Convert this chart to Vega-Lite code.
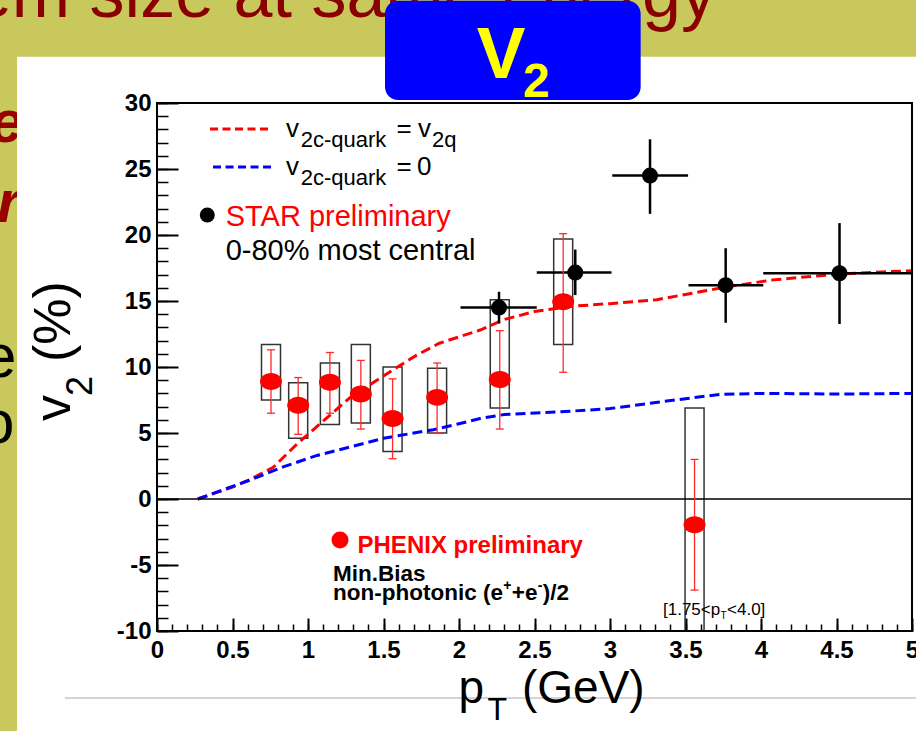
{
  "$schema": "https://vega.github.io/schema/vega-lite/v6.json",
  "width": 755,
  "height": 528,
  "autosize": {"type": "none"},
  "padding": {"left": 157, "top": 103, "right": 4, "bottom": 100},
  "background": "#c8c85c",
  "config": {"view": {"stroke": null}},
  "resolve": {"axis": {"x": "independent", "y": "independent"}},
  "datasets": {
    "phenix": [
      {"pt": 0.755, "v2": 8.9, "stat_lo": 6.5, "stat_hi": 11.3, "sys_lo": 7.5, "sys_hi": 11.7},
      {"pt": 0.935, "v2": 7.1, "stat_lo": 4.9, "stat_hi": 9.2, "sys_lo": 4.6, "sys_hi": 8.8},
      {"pt": 1.145, "v2": 8.85, "stat_lo": 6.5, "stat_hi": 11.1, "sys_lo": 5.65, "sys_hi": 10.3},
      {"pt": 1.35, "v2": 7.95, "stat_lo": 5.3, "stat_hi": 10.5, "sys_lo": 5.75, "sys_hi": 11.7},
      {"pt": 1.56, "v2": 6.1, "stat_lo": 3.05, "stat_hi": 9.1, "sys_lo": 3.6, "sys_hi": 10.0},
      {"pt": 1.855, "v2": 7.7, "stat_lo": 5.0, "stat_hi": 10.3, "sys_lo": 5.0, "sys_hi": 9.9},
      {"pt": 2.27, "v2": 9.05, "stat_lo": 5.3, "stat_hi": 12.75, "sys_lo": 6.9, "sys_hi": 15.1},
      {"pt": 2.69, "v2": 14.95, "stat_lo": 9.6, "stat_hi": 20.1, "sys_lo": 11.7, "sys_hi": 19.7},
      {"pt": 3.56, "v2": -1.95, "stat_lo": -6.9, "stat_hi": 3.0, "sys_lo": -10.0, "sys_hi": 6.9}
    ],
    "star": [
      {"pt": 2.265, "v2": 14.5, "pt_lo": 2.01, "pt_hi": 2.515, "v2_lo": 13.3, "v2_hi": 15.7},
      {"pt": 2.77, "v2": 17.15, "pt_lo": 2.515, "pt_hi": 3.01, "v2_lo": 15.45, "v2_hi": 18.9},
      {"pt": 3.265, "v2": 24.5, "pt_lo": 3.015, "pt_hi": 3.517, "v2_lo": 21.6, "v2_hi": 27.25},
      {"pt": 3.766, "v2": 16.2, "pt_lo": 3.52, "pt_hi": 4.015, "v2_lo": 13.35, "v2_hi": 19.0},
      {"pt": 4.52, "v2": 17.1, "pt_lo": 4.015, "pt_hi": 5.0, "v2_lo": 13.26, "v2_hi": 20.9}
    ],
    "model": [
      {"model": "v2c-quark = v2q", "pt": 0.27, "v2": 0},
      {"model": "v2c-quark = v2q", "pt": 0.5, "v2": 0.9},
      {"model": "v2c-quark = v2q", "pt": 0.62, "v2": 1.5},
      {"model": "v2c-quark = v2q", "pt": 0.77, "v2": 2.4},
      {"model": "v2c-quark = v2q", "pt": 0.93, "v2": 4.2},
      {"model": "v2c-quark = v2q", "pt": 1.08, "v2": 5.7},
      {"model": "v2c-quark = v2q", "pt": 1.28, "v2": 7.7},
      {"model": "v2c-quark = v2q", "pt": 1.565, "v2": 9.8},
      {"model": "v2c-quark = v2q", "pt": 1.72, "v2": 10.9},
      {"model": "v2c-quark = v2q", "pt": 1.87, "v2": 11.8},
      {"model": "v2c-quark = v2q", "pt": 2.14, "v2": 12.8},
      {"model": "v2c-quark = v2q", "pt": 2.3, "v2": 13.6},
      {"model": "v2c-quark = v2q", "pt": 2.5, "v2": 14.2},
      {"model": "v2c-quark = v2q", "pt": 2.75, "v2": 14.6},
      {"model": "v2c-quark = v2q", "pt": 3.0, "v2": 14.8},
      {"model": "v2c-quark = v2q", "pt": 3.31, "v2": 15.1},
      {"model": "v2c-quark = v2q", "pt": 3.55, "v2": 15.6},
      {"model": "v2c-quark = v2q", "pt": 3.79, "v2": 16.1},
      {"model": "v2c-quark = v2q", "pt": 4.08, "v2": 16.6},
      {"model": "v2c-quark = v2q", "pt": 4.52, "v2": 17.05},
      {"model": "v2c-quark = v2q", "pt": 5.0, "v2": 17.3},
      {"model": "v2c-quark = 0", "pt": 0.27, "v2": 0},
      {"model": "v2c-quark = 0", "pt": 0.62, "v2": 1.45},
      {"model": "v2c-quark = 0", "pt": 0.84, "v2": 2.45},
      {"model": "v2c-quark = 0", "pt": 1.06, "v2": 3.3},
      {"model": "v2c-quark = 0", "pt": 1.3, "v2": 4.0},
      {"model": "v2c-quark = 0", "pt": 1.5, "v2": 4.6},
      {"model": "v2c-quark = 0", "pt": 1.83, "v2": 5.25},
      {"model": "v2c-quark = 0", "pt": 2.0, "v2": 5.7},
      {"model": "v2c-quark = 0", "pt": 2.14, "v2": 6.1},
      {"model": "v2c-quark = 0", "pt": 2.3, "v2": 6.4},
      {"model": "v2c-quark = 0", "pt": 2.67, "v2": 6.6},
      {"model": "v2c-quark = 0", "pt": 3.0, "v2": 6.85},
      {"model": "v2c-quark = 0", "pt": 3.33, "v2": 7.35},
      {"model": "v2c-quark = 0", "pt": 3.73, "v2": 7.93},
      {"model": "v2c-quark = 0", "pt": 4.0, "v2": 8.0},
      {"model": "v2c-quark = 0", "pt": 4.5, "v2": 7.95},
      {"model": "v2c-quark = 0", "pt": 5.0, "v2": 8.0}
    ]
  },
  "layer": [
    {
      "data": {"values": [{"x": -1.106, "y": 27.05, "t": "e/"}, {"x": -1.06, "y": 20.98, "t": "r"}]},
      "mark": {"type": "text", "font": "Liberation Sans", "fontSize": 60, "fontWeight": "bold", "fontStyle": "italic", "color": "#990000", "align": "left", "baseline": "alphabetic"},
      "encoding": {"x": {"field": "x", "type": "quantitative", "axis": null}, "y": {"field": "y", "type": "quantitative", "axis": null}, "text": {"field": "t"}}
    },
    {
      "data": {"values": [{"x": -1.159, "y": 9.24, "t": "e"}, {"x": -1.172, "y": 4.24, "t": "o"}]},
      "mark": {"type": "text", "font": "Liberation Sans", "fontSize": 62, "color": "black", "align": "left", "baseline": "alphabetic"},
      "encoding": {"x": {"field": "x", "type": "quantitative", "axis": null}, "y": {"field": "y", "type": "quantitative", "axis": null}, "text": {"field": "t"}}
    },
    {
      "data": {"values": [{"x": -1.219, "y": 36.5, "t": "em size at same energy"}]},
      "mark": {"type": "text", "font": "Liberation Sans", "fontSize": 70, "color": "#8a0000", "align": "left", "baseline": "alphabetic"},
      "encoding": {"x": {"field": "x", "type": "quantitative", "axis": null}, "y": {"field": "y", "type": "quantitative", "axis": null}, "text": {"field": "t"}}
    },
    {
      "data": {"values": [{"x0": -0.927, "x1": 5.1, "y0": -18, "y1": 33.5}]},
      "mark": {"type": "rect", "fill": "white"},
      "encoding": {"x": {"field": "x0", "type": "quantitative", "axis": null}, "x2": {"field": "x1"}, "y": {"field": "y0", "type": "quantitative", "axis": null}, "y2": {"field": "y1"}}
    },
    {
      "data": {"values": [{"x0": -0.61, "x1": 5.1, "y": -15.08}]},
      "mark": {"type": "rule", "stroke": "#d4d4d4", "strokeWidth": 2},
      "encoding": {"x": {"field": "x0", "type": "quantitative", "axis": null}, "x2": {"field": "x1"}, "y": {"field": "y", "type": "quantitative", "axis": null}}
    },
    {
      "data": {"values": [{"x0": 1.51, "x1": 3.203, "y0": 30.23, "y1": 37.75}]},
      "mark": {"type": "rect", "fill": "#0000ff", "cornerRadius": 13},
      "encoding": {"x": {"field": "x0", "type": "quantitative", "axis": null}, "x2": {"field": "x1"}, "y": {"field": "y0", "type": "quantitative", "axis": null}, "y2": {"field": "y1"}}
    },
    {
      "data": {"values": [{"x": 2.117, "y": 31.87, "t": "V"}]},
      "mark": {"type": "text", "font": "Liberation Sans", "fontSize": 73, "fontWeight": "bold", "color": "#ffff00", "align": "left", "baseline": "alphabetic"},
      "encoding": {"x": {"field": "x", "type": "quantitative", "axis": null}, "y": {"field": "y", "type": "quantitative", "axis": null}, "text": {"field": "t"}}
    },
    {
      "data": {"values": [{"x": 2.424, "y": 30.48, "t": "2"}]},
      "mark": {"type": "text", "font": "Liberation Sans", "fontSize": 48, "fontWeight": "bold", "color": "#ffff00", "align": "left", "baseline": "alphabetic"},
      "encoding": {"x": {"field": "x", "type": "quantitative", "axis": null}, "y": {"field": "y", "type": "quantitative", "axis": null}, "text": {"field": "t"}}
    },
    {
      "data": {"name": "phenix"},
      "mark": {"type": "bar", "width": 19, "fillOpacity": 0, "stroke": "#333333", "strokeWidth": 1.5},
      "encoding": {"x": {"field": "pt", "type": "quantitative", "axis": null}, "y": {"field": "sys_lo", "type": "quantitative", "axis": null}, "y2": {"field": "sys_hi"}}
    },
    {
      "data": {"name": "model"},
      "mark": {"type": "line", "strokeWidth": 3, "strokeDash": [10, 5]},
      "encoding": {
        "x": {"field": "pt", "type": "quantitative", "axis": null},
        "y": {"field": "v2", "type": "quantitative", "axis": null},
        "color": {"field": "model", "type": "nominal", "scale": {"domain": ["v2c-quark = v2q", "v2c-quark = 0"], "range": ["#ff0000", "#0000ff"]}, "legend": null}
      }
    },
    {
      "data": {"values": [{"x0": 0, "x1": 5, "y": 0}]},
      "mark": {"type": "rule", "stroke": "black", "strokeWidth": 1.5},
      "encoding": {
        "x": {"field": "x0", "type": "quantitative", "axis": {"orient": "bottom", "values": [0, 0.1, 0.2, 0.3, 0.4, 0.5, 0.6, 0.7, 0.8, 0.9, 1, 1.1, 1.2, 1.3, 1.4, 1.5, 1.6, 1.7, 1.8, 1.9, 2, 2.1, 2.2, 2.3, 2.4, 2.5, 2.6, 2.7, 2.8, 2.9, 3, 3.1, 3.2, 3.3, 3.4, 3.5, 3.6, 3.7, 3.8, 3.9, 4, 4.1, 4.2, 4.3, 4.4, 4.5, 4.6, 4.7, 4.8, 4.9, 5], "tickSize": -7, "tickWidth": 1.5, "tickColor": "black", "labels": false, "domain": false, "grid": false, "title": null, "zindex": 2}},
        "x2": {"field": "x1"},
        "y": {"field": "y", "type": "quantitative", "axis": {"orient": "left", "values": [-10, -9, -8, -7, -6, -5, -4, -3, -2, -1, 0, 1, 2, 3, 4, 5, 6, 7, 8, 9, 10, 11, 12, 13, 14, 15, 16, 17, 18, 19, 20, 21, 22, 23, 24, 25, 26, 27, 28, 29, 30], "tickSize": -11, "tickWidth": 1.5, "tickColor": "black", "labels": false, "domain": false, "grid": false, "title": null, "zindex": 2}}
      }
    },
    {
      "data": {"name": "star"},
      "mark": {"type": "rule", "stroke": "black", "strokeWidth": 2.5},
      "encoding": {"x": {"field": "pt_lo", "type": "quantitative", "axis": null}, "x2": {"field": "pt_hi"}, "y": {"field": "v2", "type": "quantitative", "axis": null}}
    },
    {
      "data": {"name": "star"},
      "mark": {"type": "rule", "stroke": "black", "strokeWidth": 2.5},
      "encoding": {"x": {"field": "pt", "type": "quantitative", "axis": null}, "y": {"field": "v2_lo", "type": "quantitative", "axis": null}, "y2": {"field": "v2_hi"}}
    },
    {
      "data": {"name": "star"},
      "mark": {"type": "point", "shape": "circle", "filled": true, "color": "black", "size": 256, "opacity": 1},
      "encoding": {"x": {"field": "pt", "type": "quantitative", "axis": null}, "y": {"field": "v2", "type": "quantitative", "axis": null}}
    },
    {
      "data": {"name": "phenix"},
      "mark": {"type": "rule", "stroke": "#ff2a2a", "strokeWidth": 1.3},
      "encoding": {"x": {"field": "pt", "type": "quantitative", "axis": null}, "y": {"field": "stat_lo", "type": "quantitative", "axis": null}, "y2": {"field": "stat_hi"}}
    },
    {
      "data": {"name": "phenix"},
      "mark": {"type": "tick", "orient": "horizontal", "color": "#ff2a2a", "size": 8, "thickness": 1.3, "opacity": 1},
      "encoding": {"x": {"field": "pt", "type": "quantitative", "axis": null}, "y": {"field": "stat_lo", "type": "quantitative", "axis": null}}
    },
    {
      "data": {"name": "phenix"},
      "mark": {"type": "tick", "orient": "horizontal", "color": "#ff2a2a", "size": 8, "thickness": 1.3, "opacity": 1},
      "encoding": {"x": {"field": "pt", "type": "quantitative", "axis": null}, "y": {"field": "stat_hi", "type": "quantitative", "axis": null}}
    },
    {
      "data": {"name": "phenix"},
      "mark": {"type": "point", "shape": "M-1,0A1,0.77,0,1,0,1,0A1,0.77,0,1,0,-1,0Z", "filled": true, "color": "#ff0000", "size": 484, "opacity": 1},
      "encoding": {"x": {"field": "pt", "type": "quantitative", "axis": null}, "y": {"field": "v2", "type": "quantitative", "axis": null}}
    },
    {
      "data": {"values": [{"x0": 0.351, "x1": 0.762, "y": 28.03}]},
      "mark": {"type": "rule", "stroke": "#ff0000", "strokeWidth": 3, "strokeDash": [8, 4.5]},
      "encoding": {"x": {"field": "x0", "type": "quantitative", "axis": null}, "x2": {"field": "x1"}, "y": {"field": "y", "type": "quantitative", "axis": null}}
    },
    {
      "data": {"values": [{"x0": 0.371, "x1": 0.768, "y": 25.15}]},
      "mark": {"type": "rule", "stroke": "#0000ff", "strokeWidth": 3, "strokeDash": [8, 4.5]},
      "encoding": {"x": {"field": "x0", "type": "quantitative", "axis": null}, "x2": {"field": "x1"}, "y": {"field": "y", "type": "quantitative", "axis": null}}
    },
    {
      "data": {"values": [{"x": 0.854, "y": 27.45, "t": "v"}, {"x": 1.586, "y": 27.45, "t": "="}, {"x": 1.728, "y": 27.45, "t": "v"}, {"x": 0.854, "y": 24.55, "t": "v"}, {"x": 1.586, "y": 24.55, "t": "="}, {"x": 1.722, "y": 24.55, "t": "0"}]},
      "mark": {"type": "text", "font": "Liberation Sans", "fontSize": 26, "color": "black", "align": "left", "baseline": "alphabetic"},
      "encoding": {"x": {"field": "x", "type": "quantitative", "axis": null}, "y": {"field": "y", "type": "quantitative", "axis": null}, "text": {"field": "t"}}
    },
    {
      "data": {"values": [{"x": 0.952, "y": 26.69, "t": "2c-quark"}, {"x": 1.821, "y": 26.67, "t": "2q"}, {"x": 0.952, "y": 23.79, "t": "2c-quark"}]},
      "mark": {"type": "text", "font": "Liberation Sans", "fontSize": 22, "color": "black", "align": "left", "baseline": "alphabetic"},
      "encoding": {"x": {"field": "x", "type": "quantitative", "axis": null}, "y": {"field": "y", "type": "quantitative", "axis": null}, "text": {"field": "t"}}
    },
    {
      "data": {"values": [{"x": 0.333, "y": 21.52}]},
      "mark": {"type": "point", "shape": "circle", "filled": true, "color": "black", "size": 225, "opacity": 1},
      "encoding": {"x": {"field": "x", "type": "quantitative", "axis": null}, "y": {"field": "y", "type": "quantitative", "axis": null}}
    },
    {
      "data": {"values": [{"x": 0.455, "y": 20.68, "t": "STAR preliminary"}]},
      "mark": {"type": "text", "font": "Liberation Sans", "fontSize": 29, "color": "#ff0000", "align": "left", "baseline": "alphabetic"},
      "encoding": {"x": {"field": "x", "type": "quantitative", "axis": null}, "y": {"field": "y", "type": "quantitative", "axis": null}, "text": {"field": "t"}}
    },
    {
      "data": {"values": [{"x": 0.455, "y": 18.11, "t": "0-80% most central"}]},
      "mark": {"type": "text", "font": "Liberation Sans", "fontSize": 29, "color": "black", "align": "left", "baseline": "alphabetic"},
      "encoding": {"x": {"field": "x", "type": "quantitative", "axis": null}, "y": {"field": "y", "type": "quantitative", "axis": null}, "text": {"field": "t"}}
    },
    {
      "data": {"values": [{"x": 1.212, "y": -3.106}]},
      "mark": {"type": "point", "shape": "circle", "filled": true, "color": "#ff0000", "size": 289, "opacity": 1},
      "encoding": {"x": {"field": "x", "type": "quantitative", "axis": null}, "y": {"field": "y", "type": "quantitative", "axis": null}}
    },
    {
      "data": {"values": [{"x": 1.328, "y": -4.11, "t": "PHENIX preliminary"}]},
      "mark": {"type": "text", "font": "Liberation Sans", "fontSize": 24, "fontWeight": "bold", "color": "#ff0000", "align": "left", "baseline": "alphabetic"},
      "encoding": {"x": {"field": "x", "type": "quantitative", "axis": null}, "y": {"field": "y", "type": "quantitative", "axis": null}, "text": {"field": "t"}}
    },
    {
      "data": {"values": [{"x": 1.166, "y": -6.18, "t": "Min.Bias"}, {"x": 1.166, "y": -7.65, "t": "non-photonic (e"}, {"x": 2.35, "y": -7.65, "t": "+e"}, {"x": 2.554, "y": -7.65, "t": ")/2"}]},
      "mark": {"type": "text", "font": "Liberation Sans", "fontSize": 22.5, "fontWeight": "bold", "color": "black", "align": "left", "baseline": "alphabetic"},
      "encoding": {"x": {"field": "x", "type": "quantitative", "axis": null}, "y": {"field": "y", "type": "quantitative", "axis": null}, "text": {"field": "t"}}
    },
    {
      "data": {"values": [{"x": 2.293, "y": -6.89, "t": "+"}, {"x": 2.521, "y": -6.89, "t": "-"}]},
      "mark": {"type": "text", "font": "Liberation Sans", "fontSize": 14, "fontWeight": "bold", "color": "black", "align": "left", "baseline": "alphabetic"},
      "encoding": {"x": {"field": "x", "type": "quantitative", "axis": null}, "y": {"field": "y", "type": "quantitative", "axis": null}, "text": {"field": "t"}}
    },
    {
      "data": {"values": [{"x": 3.351, "y": -8.79, "t": "[1.75<p"}, {"x": 3.775, "y": -8.79, "t": "<4.0]"}]},
      "mark": {"type": "text", "font": "Liberation Sans", "fontSize": 17, "color": "black", "align": "left", "baseline": "alphabetic"},
      "encoding": {"x": {"field": "x", "type": "quantitative", "axis": null}, "y": {"field": "y", "type": "quantitative", "axis": null}, "text": {"field": "t"}}
    },
    {
      "data": {"values": [{"x": 3.732, "y": -9.09, "t": "T"}]},
      "mark": {"type": "text", "font": "Liberation Sans", "fontSize": 10, "color": "black", "align": "left", "baseline": "alphabetic"},
      "encoding": {"x": {"field": "x", "type": "quantitative", "axis": null}, "y": {"field": "y", "type": "quantitative", "axis": null}, "text": {"field": "t"}}
    },
    {
      "data": {"values": [{"x": 1.997, "y": -15.45, "t": "p"}, {"x": 2.417, "y": -15.45, "t": "(GeV)"}]},
      "mark": {"type": "text", "font": "Liberation Sans", "fontSize": 46, "color": "black", "align": "left", "baseline": "alphabetic"},
      "encoding": {"x": {"field": "x", "type": "quantitative", "axis": null}, "y": {"field": "y", "type": "quantitative", "axis": null}, "text": {"field": "t"}}
    },
    {
      "data": {"values": [{"x": 2.189, "y": -16.74, "t": "T"}]},
      "mark": {"type": "text", "font": "Liberation Sans", "fontSize": 32, "color": "black", "align": "left", "baseline": "alphabetic"},
      "encoding": {"x": {"field": "x", "type": "quantitative", "axis": null}, "y": {"field": "y", "type": "quantitative", "axis": null}, "text": {"field": "t"}}
    },
    {
      "data": {"values": [{"x": -0.576, "y": 5.91, "t": "v"}, {"x": -0.576, "y": 10.38, "t": "(%)"}]},
      "mark": {"type": "text", "font": "Liberation Sans", "fontSize": 52, "color": "black", "align": "left", "baseline": "alphabetic", "angle": 270},
      "encoding": {"x": {"field": "x", "type": "quantitative", "axis": null}, "y": {"field": "y", "type": "quantitative", "axis": null}, "text": {"field": "t"}}
    },
    {
      "data": {"values": [{"x": -0.432, "y": 7.8, "t": "2"}]},
      "mark": {"type": "text", "font": "Liberation Sans", "fontSize": 36, "color": "black", "align": "left", "baseline": "alphabetic", "angle": 270},
      "encoding": {"x": {"field": "x", "type": "quantitative", "axis": null}, "y": {"field": "y", "type": "quantitative", "axis": null}, "text": {"field": "t"}}
    },
    {
      "data": {"values": [{"x0": 0, "x1": 5, "y0": -10, "y1": 30}]},
      "mark": {"type": "rect", "fillOpacity": 0, "stroke": "black", "strokeWidth": 2},
      "encoding": {
        "x": {"field": "x0", "type": "quantitative", "scale": {"domain": [0, 5], "nice": false, "zero": false, "padding": 0}, "axis": {"orient": "bottom", "values": [0, 0.5, 1, 1.5, 2, 2.5, 3, 3.5, 4, 4.5, 5], "format": "~g", "tickSize": -13, "tickWidth": 2, "tickColor": "black", "domain": false, "grid": false, "title": null, "labelFont": "Liberation Sans", "labelFontWeight": "bold", "labelFontSize": 24, "labelColor": "black", "labelPadding": 20, "labelFlush": false, "labelOverlap": false, "labelBound": false, "zindex": 2}},
        "x2": {"field": "x1"},
        "y": {"field": "y0", "type": "quantitative", "scale": {"domain": [-10, 30], "nice": false, "zero": false, "padding": 0}, "axis": {"orient": "left", "values": [-10, -5, 0, 5, 10, 15, 20, 25, 30], "labelExpr": "datum.value < 0 ? '-' + abs(datum.value) : '' + datum.value", "tickSize": -21, "tickWidth": 2, "tickColor": "black", "domain": false, "grid": false, "title": null, "labelFont": "Liberation Sans", "labelFontWeight": "bold", "labelFontSize": 24, "labelColor": "black", "labelPadding": 27, "labelFlush": false, "labelOverlap": false, "labelBound": false, "zindex": 2}},
        "y2": {"field": "y1"}
      }
    }
  ]
}
